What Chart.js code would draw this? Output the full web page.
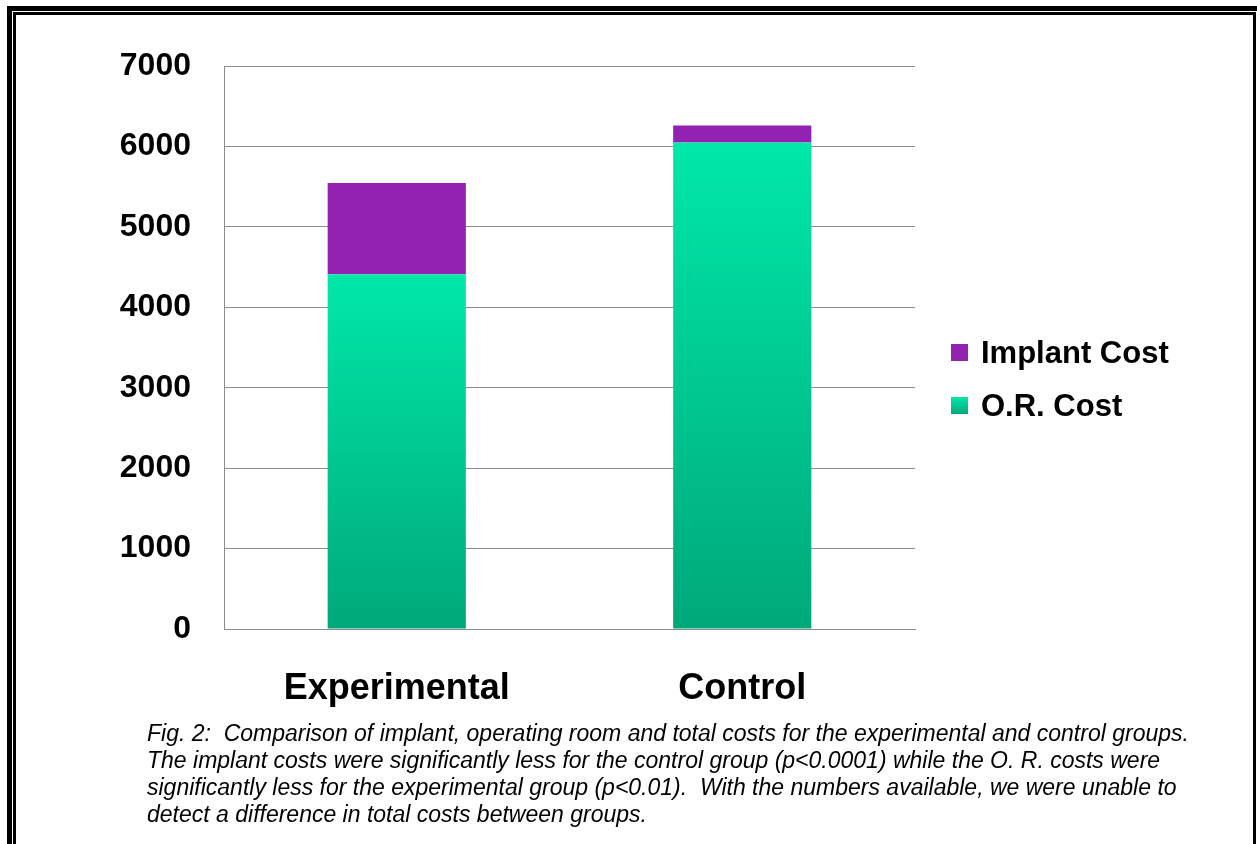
<!DOCTYPE html>
<html>
<head>
<meta charset="utf-8">
<script src="https://cdn.jsdelivr.net/npm/chart.js@4.4.1/dist/chart.umd.min.js"></script>
<style>
  html, body { margin: 0; padding: 0; background: #fff; }
  body { width: 1257px; height: 844px; position: relative; overflow: hidden; font-family: "Liberation Sans", Arial, sans-serif; }
  .frame-outer { position: absolute; left: 7px; top: 6px; width: 1300px; height: 900px; border: 5px solid #000; box-sizing: border-box; }
  .frame-inner { position: absolute; left: 13px; top: 12px; width: 1243px; height: 900px; border: 3px solid #000; border-bottom: none; box-sizing: border-box; }
  .plot { position: absolute; left: 0; top: 0; width: 1257px; height: 844px; }
  .caption { position: absolute; left: 147px; top: 720px; font-style: italic; font-size: 23px; line-height: 27px; color: #000; white-space: nowrap; }
</style>
</head>
<body>
<div class="frame-outer"></div>
<div class="frame-inner"></div>
<div class="plot"><canvas id="c" width="1257" height="844"></canvas></div>
<div class="caption">
Fig. 2:&nbsp; Comparison of implant, operating room and total costs for the experimental and control groups.<br>
The implant costs were significantly less for the control group (p&lt;0.0001) while the O. R. costs were<br>
significantly less for the experimental group (p&lt;0.01).&nbsp; With the numbers available, we were unable to<br>
detect a difference in total costs between groups.
</div>
<script>
// Mean costs per group
const groups = ['Experimental', 'Control'];
const orCost = [4410, 6050];
const implantCost = [1135, 210];
const yTicks = [0, 1000, 2000, 3000, 4000, 5000, 6000, 7000];

const PURPLE = '#9322b3';
const GREEN_TOP = '#00e8a8';
const GREEN_BOTTOM = '#00a87a';

// Vertical green gradient running from each bar's top down to the baseline
function greenFill(ctx) {
  const chart = ctx.chart;
  const area = chart.chartArea;
  if (!area || ctx.type !== 'data') return GREEN_TOP;
  const y = chart.scales.y;
  const top = y.getPixelForValue(ctx.raw);
  const bottom = y.getPixelForValue(0);
  const g = chart.ctx.createLinearGradient(0, top, 0, bottom);
  g.addColorStop(0, GREEN_TOP);
  g.addColorStop(1, GREEN_BOTTOM);
  return g;
}

// Legend drawn beside the plot, using the datasets' own labels and colours
const sideLegend = {
  id: 'sideLegend',
  afterDraw(chart) {
    const c = chart.ctx;
    const items = [
      { ds: chart.data.datasets[1], y: 353 },
      { ds: chart.data.datasets[0], y: 406 }
    ];
    c.save();
    c.font = 'bold 31px "Liberation Sans", Arial, sans-serif';
    c.textBaseline = 'middle';
    items.forEach((it, i) => {
      const sx = 951, sy = it.y - 9, s = 17;
      if (i === 1) {
        const g = c.createLinearGradient(0, sy, 0, sy + s);
        g.addColorStop(0, GREEN_TOP);
        g.addColorStop(1, GREEN_BOTTOM);
        c.fillStyle = g;
      } else {
        c.fillStyle = PURPLE;
      }
      c.fillRect(sx, sy, s, s);
      c.fillStyle = '#000';
      c.fillText(it.ds.label, 981, it.y + 1);
    });
    c.restore();
  }
};

new Chart(document.getElementById('c'), {
  type: 'bar',
  data: {
    labels: groups,
    datasets: [
      { label: 'O.R. Cost', data: orCost, backgroundColor: greenFill, borderWidth: 0 },
      { label: 'Implant Cost', data: implantCost, backgroundColor: PURPLE, borderWidth: 0 }
    ]
  },
  options: {
    responsive: false,
    animation: false,
    layout: { padding: { top: 66, right: 342, bottom: 0, left: 0 } },
    datasets: { bar: { categoryPercentage: 1.0, barPercentage: 0.4 } },
    plugins: { legend: { display: false }, tooltip: { enabled: false }, title: { display: false } },
    scales: {
      x: {
        stacked: true,
        grid: { display: false, drawTicks: false },
        border: { display: true, color: '#8c8c8c', width: 1 },
        ticks: { color: '#000', padding: 38, font: { family: '"Liberation Sans", Arial, sans-serif', size: 36, weight: 'bold' } },
        afterFit(scale) { scale.height = 215; }
      },
      y: {
        stacked: true,
        min: 0,
        max: 7000,
        afterBuildTicks(scale) { scale.ticks = yTicks.map(v => ({ value: v })); },
        grid: { color: '#8c8c8c', lineWidth: 1, drawTicks: false },
        border: { display: true, color: '#8c8c8c', width: 1 },
        ticks: {
          color: '#000', padding: 33,
          font: { family: '"Liberation Sans", Arial, sans-serif', size: 32, weight: 'bold' },
          callback: (v) => String(v)
        },
        afterFit(scale) { scale.width = 224; }
      }
    }
  },
  plugins: [sideLegend]
});
</script>
</body>
</html>
